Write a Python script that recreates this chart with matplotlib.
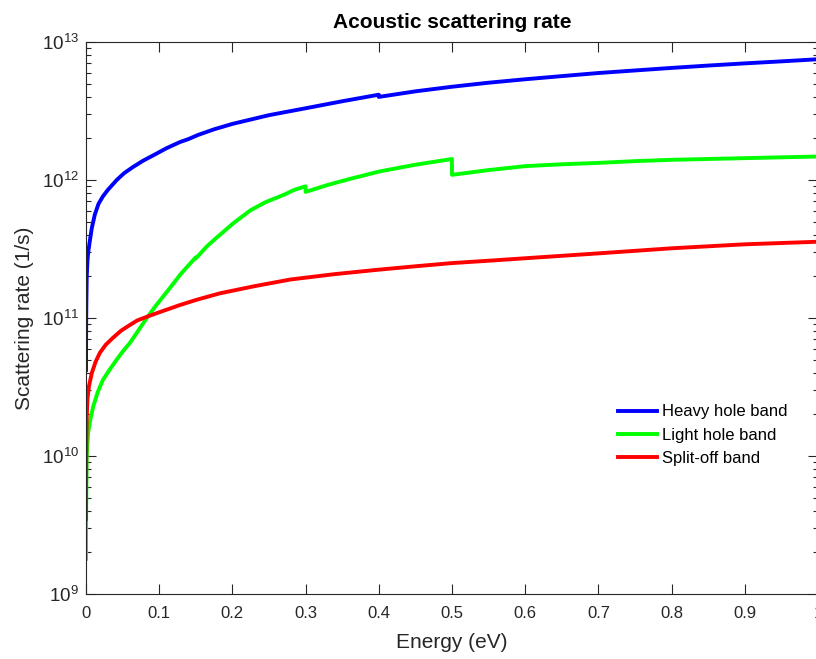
import numpy as np
import matplotlib
matplotlib.use('Agg')
import matplotlib.pyplot as plt
from matplotlib.ticker import LogLocator, NullFormatter

plt.rcParams['font.family'] = ['Liberation Sans', 'DejaVu Sans']
plt.rcParams['mathtext.default'] = 'regular'

# Heavy hole band (energy in eV, rate in 1/s)
hh_energy = [0.0, 0.0002, 0.0005, 0.001, 0.002, 0.003, 0.0055, 0.008, 0.012,
             0.017, 0.023, 0.03, 0.042, 0.052, 0.064, 0.078, 0.092, 0.11,
             0.128, 0.14, 0.153, 0.175, 0.2, 0.25, 0.3, 0.35, 0.3999, 0.4,
             0.45, 0.5, 0.55, 0.6, 0.65, 0.7, 0.75, 0.8, 0.85, 0.9, 0.95, 1.0]
hh_rate = [4.2e10, 9.0e10, 1.3e11, 2.0e11, 2.6e11, 3.0e11, 3.7e11, 4.5e11,
           5.6e11, 6.7e11, 7.6e11, 8.5e11, 1.0e12, 1.12e12, 1.24e12, 1.38e12,
           1.51e12, 1.7e12, 1.88e12, 1.98e12, 2.12e12, 2.33e12, 2.55e12,
           2.95e12, 3.31e12, 3.72e12, 4.15e12, 4.0e12, 4.39e12, 4.74e12,
           5.07e12, 5.37e12, 5.66e12, 5.96e12, 6.22e12, 6.49e12, 6.75e12,
           7.0e12, 7.24e12, 7.5e12]

# Light hole band
lh_energy = [0.0, 0.0002, 0.0005, 0.001, 0.002, 0.003, 0.006, 0.01, 0.016,
             0.023, 0.032, 0.042, 0.05, 0.06, 0.07, 0.083, 0.095, 0.115,
             0.13, 0.1499, 0.15, 0.165, 0.178, 0.2, 0.224, 0.245, 0.27,
             0.285, 0.2999, 0.3, 0.33, 0.361, 0.4, 0.429, 0.45, 0.4999, 0.5,
             0.55, 0.6, 0.65, 0.7, 0.75, 0.8, 0.85, 0.9, 0.95, 1.0]
lh_rate = [1.8e9, 4.0e9, 6.3e9, 9.9e9, 1.25e10, 1.48e10, 1.85e10, 2.3e10,
           2.9e10, 3.55e10, 4.2e10, 5.0e10, 5.7e10, 6.6e10, 7.9e10, 1.0e11,
           1.22e11, 1.66e11, 2.1e11, 2.75e11, 2.7e11, 3.3e11, 3.8e11, 4.8e11,
           6.0e11, 6.9e11, 7.8e11, 8.5e11, 9.0e11, 8.2e11, 9.2e11, 1.02e12,
           1.15e12, 1.23e12, 1.29e12, 1.42e12, 1.09e12, 1.18e12, 1.26e12,
           1.30e12, 1.33e12, 1.37e12, 1.40e12, 1.42e12, 1.44e12, 1.46e12,
           1.48e12]

# Split-off band
so_energy = [0.0, 0.0001, 0.0003, 0.0005, 0.001, 0.002, 0.004, 0.008, 0.013,
             0.019, 0.027, 0.037, 0.048, 0.06, 0.07, 0.083, 0.1, 0.128, 0.15,
             0.183, 0.23, 0.279, 0.34, 0.4, 0.45, 0.5, 0.55, 0.6, 0.7, 0.8,
             0.9, 1.0]
so_rate = [3.5e9, 6.0e9, 1.0e10, 1.3e10, 1.9e10, 2.6e10, 3.2e10, 4.0e10,
           4.8e10, 5.6e10, 6.4e10, 7.2e10, 8.1e10, 8.9e10, 9.6e10, 1.02e11,
           1.1e11, 1.24e11, 1.35e11, 1.51e11, 1.7e11, 1.9e11, 2.08e11,
           2.24e11, 2.37e11, 2.5e11, 2.6e11, 2.71e11, 2.94e11, 3.2e11,
           3.42e11, 3.57e11]

labels = ['Heavy hole band', 'Light hole band', 'Split-off band']
colors = ['#0000ff', '#00ff00', '#ff0000']
xtick_vals = [0, 0.1, 0.2, 0.3, 0.4, 0.5, 0.6, 0.7, 0.8, 0.9, 1.0]
xtick_text = ['0', '0.1', '0.2', '0.3', '0.4', '0.5', '0.6', '0.7', '0.8',
              '0.9', '1']

fig = plt.figure(figsize=(8.16, 6.59), dpi=100)
ax = fig.add_axes([86 / 816, 65 / 659, 732 / 816, 552 / 659])

series = [(hh_energy, hh_rate), (lh_energy, lh_rate), (so_energy, so_rate)]
for (e, r), lab, c in zip(series, labels, colors):
    ax.plot(e, r, color=c, lw=2.8, label=lab)

ax.set_yscale('log')
ax.set_xlim(0, 1)
ax.set_ylim(1e9, 1e13)
ax.set_xticks(xtick_vals)
ax.set_xticklabels(xtick_text)
ax.yaxis.set_major_locator(LogLocator(base=10, numticks=10))
ax.yaxis.set_minor_locator(LogLocator(base=10, subs=np.arange(2, 10), numticks=10))
ax.yaxis.set_minor_formatter(NullFormatter())

gray = '#262626'
for s in ax.spines.values():
    s.set_color(gray)
    s.set_linewidth(0.8)
ax.tick_params(which='both', direction='in', top=True, right=True,
               colors=gray, labelcolor=gray)
ax.tick_params(which='major', length=7, width=0.8)
ax.tick_params(which='minor', length=3.5, width=0.8)
ax.tick_params(axis='x', pad=9, labelsize=12)
ax.tick_params(axis='y', pad=5, labelsize=13.5)

ax.set_title('Acoustic scattering rate', fontsize=15, fontweight='bold', pad=10)
ax.set_xlabel('Energy (eV)', fontsize=15, color=gray, labelpad=8)
ax.set_ylabel('Scattering rate (1/s)', fontsize=15, color=gray, labelpad=5.5)

ax.legend(loc='upper left', bbox_to_anchor=(610 / 816, 1 - 396 / 659),
          bbox_transform=fig.transFigure, frameon=False, fontsize=12,
          handlelength=2.3, handletextpad=0.3, labelspacing=0.5,
          borderpad=0)

fig.savefig('out.png', dpi=100)
